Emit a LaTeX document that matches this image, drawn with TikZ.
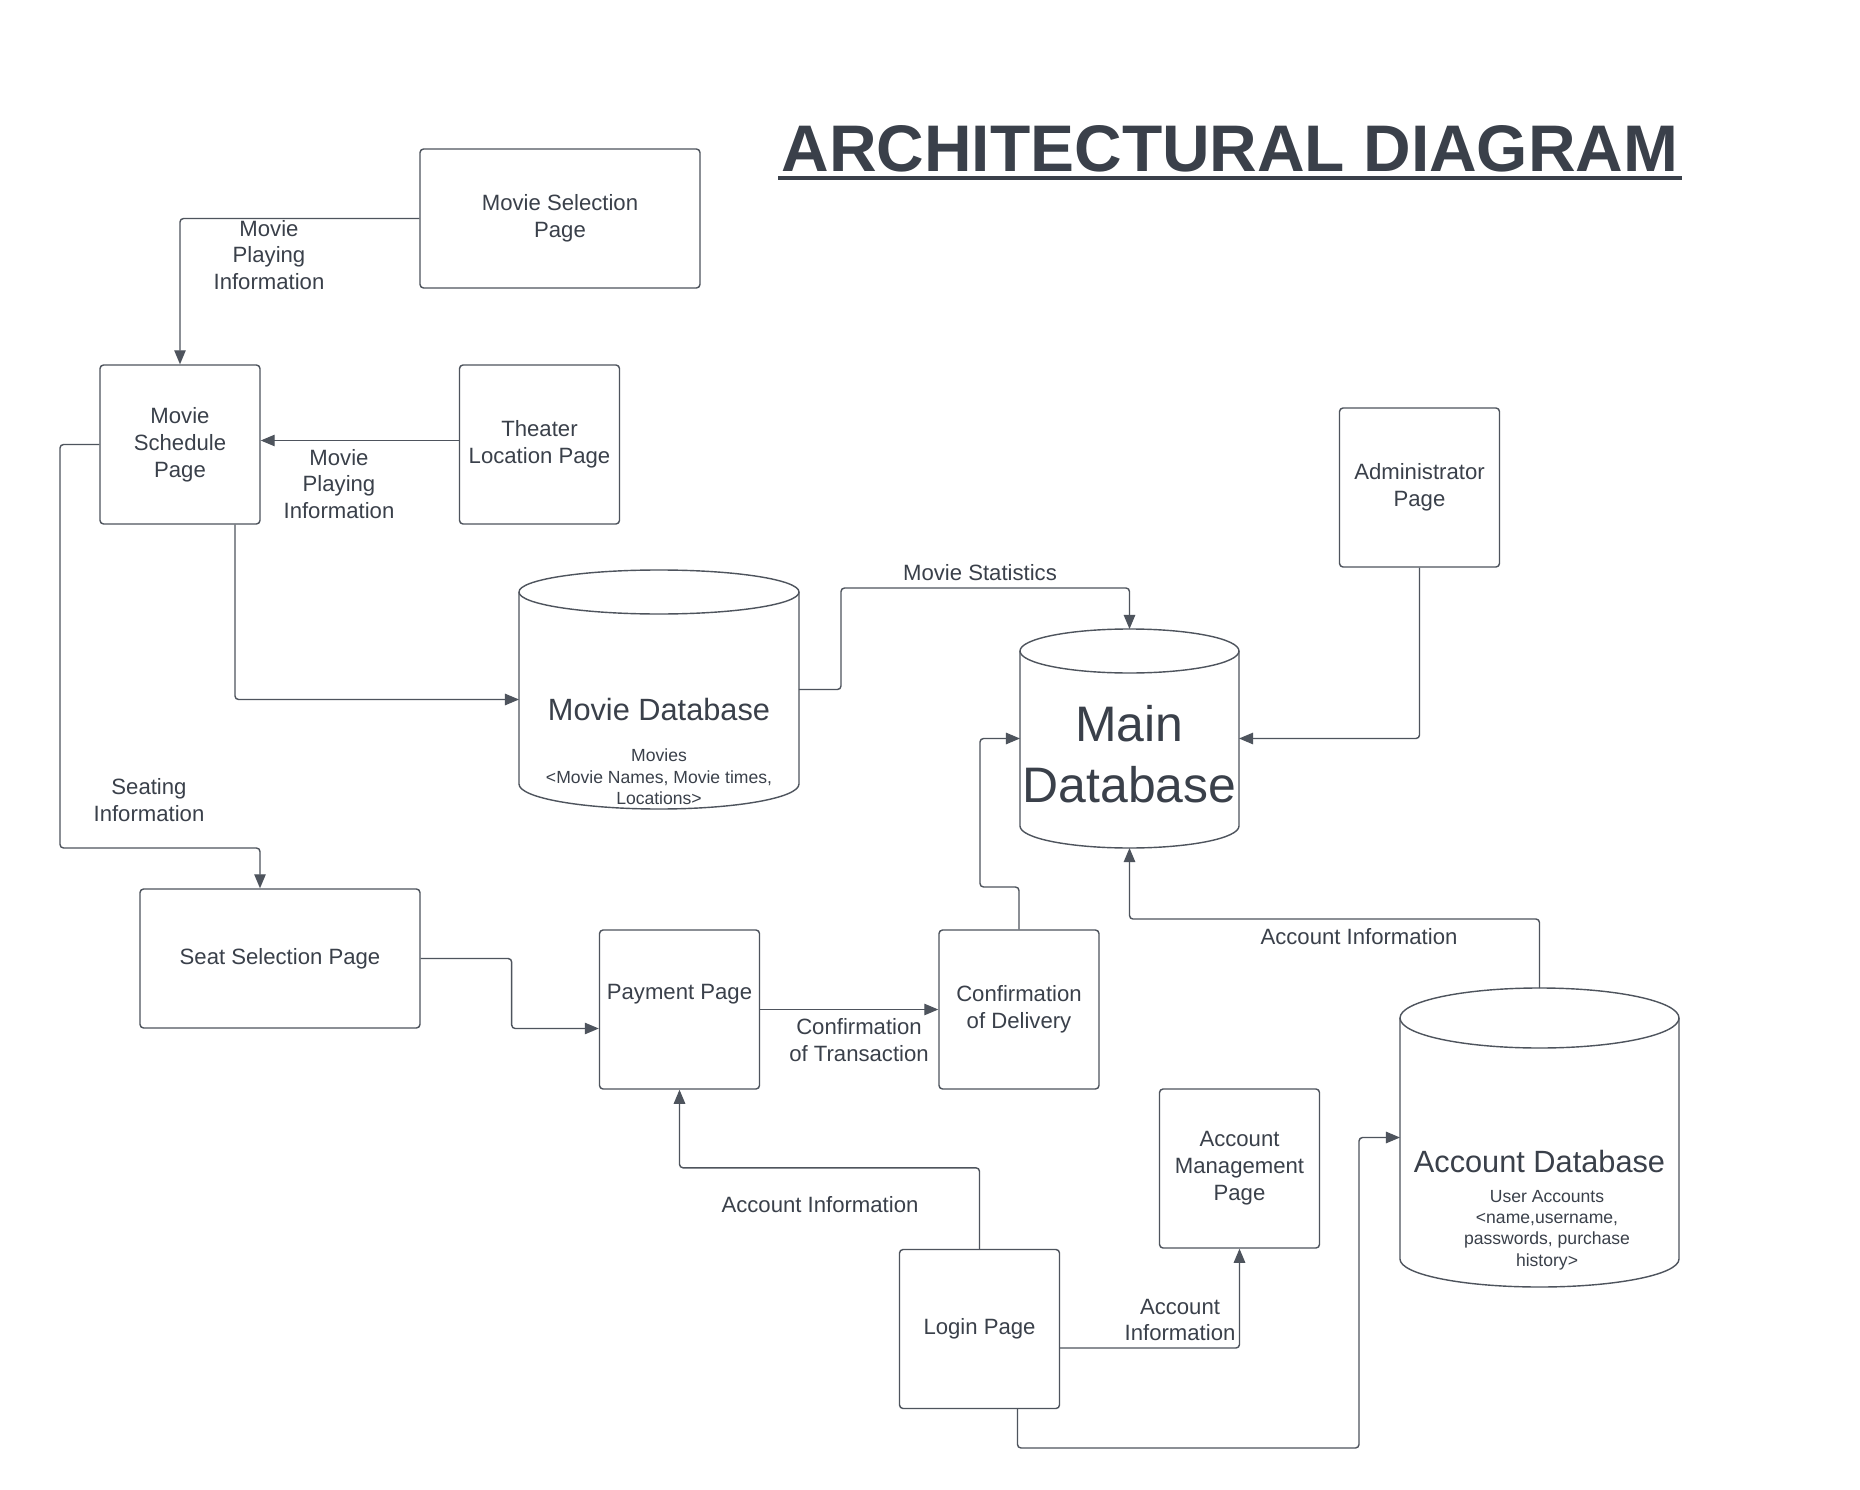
\documentclass[tikz,border=0pt]{standalone}
\usepackage{fontspec}
\setmainfont{Liberation Sans}
\usetikzlibrary{arrows.meta, calc}

\definecolor{inkgray}{RGB}{58,64,74}
\definecolor{linegray}{RGB}{78,84,93}

\tikzset{
    page/.style={draw=linegray, line width=0.8pt, rounded corners=2pt, fill=white, text=inkgray, align=center, inner sep=0pt, font=\fontsize{12.6}{15.3}\selectfont},
    widebox/.style={page, minimum width=5.6cm, minimum height=2.78cm},
    squarebox/.style={page, minimum width=3.2cm, minimum height=3.18cm},
    flow/.style={draw=linegray, line width=0.8pt, rounded corners=2pt, -{Triangle[length=8pt, width=6.5pt]}},
    flowlabel/.style={text=inkgray, align=center, inner sep=0pt, font=\fontsize{12.6}{15.3}\selectfont},
    dbcase/.style={draw=linegray, line width=0.8pt, fill=white},
    dbarea/.style={inner sep=0pt, outer sep=0pt},
    dbtitle/.style={text=inkgray, align=center, inner sep=0pt, font=\fontsize{17.5}{21}\selectfont},
    dbnote/.style={text=inkgray, align=center, inner sep=0pt, font=\fontsize{10}{12.2}\selectfont},
    bigtitle/.style={text=inkgray, align=center, inner sep=0pt, font=\fontsize{28.4}{35}\selectfont},
    headline/.style={text=inkgray, inner sep=0pt, font=\fontsize{37.5}{45}\selectfont\bfseries}
}

\begin{document}
\begin{tikzpicture}[x=0.02cm, y=-0.02cm]
    \fill[white] (0,0) rectangle (1860,1490);
    \useasboundingbox (0,0) rectangle (1860,1490);

    \node[headline, anchor=base] (title) at (1230,172) {ARCHITECTURAL DIAGRAM};
    \draw[inkgray, line width=2.2pt] ($(title.base west)+(-3,6)$) -- ($(title.base east)+(3,6)$);

    \foreach \dx/\dtop/\dbot/\drx/\dry/\drb in {659/592/784/140/22/25, 1129.5/651/826/109.5/22/22, 1539.5/1018/1259/139.5/30/28} {
        \draw[dbcase] (\dx-\drx,\dtop) -- (\dx-\drx,\dbot) arc[start angle=180, end angle=0, x radius=\drx, y radius=\drb] -- (\dx+\drx,\dtop);
        \draw[dbcase] (\dx,\dtop) ellipse[x radius=\drx, y radius=\dry];
    }

    \node[dbarea, minimum width=5.6cm, minimum height=4.78cm] (moviedb) at (659,689.5) {};
    \node[dbarea, minimum width=4.38cm, minimum height=4.38cm] (maindb) at (1129.5,738.5) {};
    \node[dbarea, minimum width=5.58cm, minimum height=5.98cm] (acctdb) at (1539.5,1137.5) {};

    \node[dbtitle] (moviedbname) at (659,710) {Movie Database};
    \node[dbnote] (moviedbnote) at (659,777) {Movies\\<Movie Names, Movie times,\\Locations>};
    \node[bigtitle] (maindbname) at (1129.5,754) {Main\\Database};
    \node[dbtitle] (acctdbname) at (1539.5,1162) {Account Database};
    \node[dbnote] (acctdbnote) at (1547,1230) {User Accounts\\<name,username,\\passwords, purchase\\history>};

    \node[widebox] (moviesel) at (560,218.5) {Movie Selection\\Page};
    \node[squarebox] (sched) at (180,444.5) {Movie\\Schedule\\Page};
    \node[squarebox] (theater) at (539.5,444.5) {Theater\\Location Page};
    \node[squarebox] (admin) at (1419.5,487.5) {Administrator\\Page};
    \node[widebox] (seat) at (280,958.5) {Seat Selection Page};
    \node[squarebox, text depth=20pt] (pay) at (679.5,1009.5) {Payment Page};
    \node[squarebox] (conf) at (1019,1009.5) {Confirmation\\of Delivery};
    \node[squarebox] (mgmt) at (1239.5,1168.5) {Account\\Management\\Page};
    \node[squarebox] (login) at (979.5,1329) {Login Page};

    \draw[flow] (moviesel.west) -| (sched.north);
    \draw[flow] ($(theater.west)+(0,-4)$) -- ($(sched.east)+(0,-4)$);
    \draw[flow] ($(sched.south)+(55,0)$) |- ($(moviedb.west)+(0,10)$);
    \draw[flow] (sched.west) -| (60,848) -| ($(seat.north)+(-20,0)$);
    \draw[flow] (moviedb.east) -| (841,588) -| (maindb.north);
    \draw[flow] (admin.south) |- (maindb.east);
    \draw[flow] (seat.east) -- ++(91,0) |- ($(pay.west)+(0,19)$);
    \draw[flow] (pay.east) -- (conf.west);
    \draw[flow] (conf.north) |- (980,887) |- (maindb.west);
    \draw[flow] (acctdb.north) -- ++(0,-69) -| (maindb.south);
    \draw[flow] (login.north) -- ++(0,-81) -| (pay.south);
    \draw[flow] ($(login.east)+(0,19)$) -| (mgmt.south);
    \draw[flow] ($(login.south)+(38,0)$) |- (1359,1448) |- (acctdb.west);

    \node[flowlabel] (selinfo) at (269,255) {Movie\\Playing\\Information};
    \node[flowlabel] (theaterinfo) at (339,484) {Movie\\Playing\\Information};
    \node[flowlabel] (seatinfo) at (149,800) {Seating\\Information};
    \node[flowlabel] (statsinfo) at (980,573) {Movie Statistics};
    \node[flowlabel] (transinfo) at (859,1040) {Confirmation\\of Transaction};
    \node[flowlabel] (acctinfo) at (1359,937) {Account Information};
    \node[flowlabel] (logininfo) at (820,1205) {Account Information};
    \node[flowlabel] (mgmtinfo) at (1180,1320) {Account\\Information};
\end{tikzpicture}
\end{document}
